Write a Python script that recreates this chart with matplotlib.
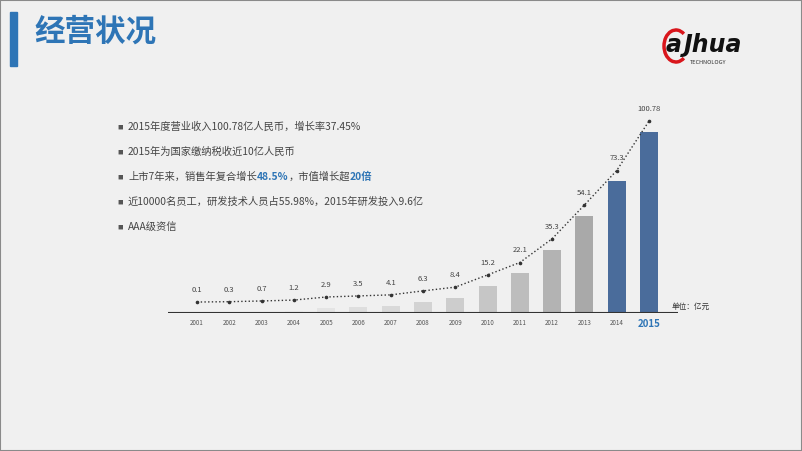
import matplotlib
matplotlib.use("Agg")
import matplotlib.pyplot as plt
from matplotlib.patches import Rectangle, Arc

plt.rcParams["font.family"] = ["Noto Sans CJK SC", "DejaVu Sans"]

years = ["2001", "2002", "2003", "2004", "2005", "2006", "2007", "2008",
         "2009", "2010", "2011", "2012", "2013", "2014", "2015"]
revenue = [0.1, 0.3, 0.7, 1.2, 2.9, 3.5, 4.1, 6.3, 8.4, 15.2, 22.1, 35.3, 54.1, 73.3, 100.78]
labels = ["0.1", "0.3", "0.7", "1.2", "2.9", "3.5", "4.1", "6.3", "8.4", "15.2",
          "22.1", "35.3", "54.1", "73.3", "100.78"]
bar_colors = ["#1a1a1a", "#1a1a1a", "#f0f0f0", "#ebebeb", "#e4e4e4", "#dedede", "#d9d9d9",
              "#d3d3d3", "#cdcdcd", "#c6c6c6", "#bdbdbd", "#b3b3b3", "#a9a9a9",
              "#4a6c9b", "#4a6c9b"]

W, H = 802, 451
fig = plt.figure(figsize=(W / 100, H / 100), dpi=100)
fig.patch.set_facecolor("#f0f0f0")

# frame
fig.add_artist(Rectangle((0, 0), 1, 1, transform=fig.transFigure, fill=False,
                         edgecolor="#8a8a8a", lw=1.5))
# title bar
fig.add_artist(Rectangle((10 / W, 1 - 66 / H), 7 / W, 54 / H, transform=fig.transFigure,
                         color="#2e75b6"))
fig.text(34 / W, 1 - 32 / H, "经营状况", fontsize=22, fontweight="bold", color="#2e75b6",
         va="center")

# logo
fig.text(666 / W, 1 - 45 / H, "a", fontsize=17, fontweight="bold", style="italic",
         color="#111111", va="center", family="DejaVu Sans")
fig.add_artist(Arc((676 / W, 1 - 46 / H), 24 / W, 32 / H, theta1=70, theta2=290,
                   transform=fig.transFigure, color="#d9161c", lw=2.5))
fig.text(684 / W, 1 - 45 / H, "Jhua", fontsize=17, fontweight="bold", style="italic",
         color="#111111", va="center", family="DejaVu Sans")
fig.text(690 / W, 1 - 62 / H, "TECHNOLOGY", fontsize=4, color="#333333", va="center")

# bullets
bullets = [
    [("2015年度营业收入100.78亿人民币，增长率37.45%", "#444444", "normal")],
    [("2015年为国家缴纳税收近10亿人民币", "#444444", "normal")],
    [("上市7年来，销售年复合增长", "#444444", "normal"), ("48.5%", "#2e75b6", "bold"),
     ("，市值增长超", "#444444", "normal"), ("20倍", "#2e75b6", "bold")],
    [("近10000名员工，研发技术人员占55.98%，2015年研发投入9.6亿", "#444444", "normal")],
    [("AAA级资信", "#444444", "normal")],
]
for i, parts in enumerate(bullets):
    y = 1 - (127 + i * 25) / H
    fig.text(117 / W, y, "■", fontsize=4, color="#555555", va="center")
    x = 128
    for txt, col, wt in parts:
        t = fig.text(x / W, y, txt, fontsize=7.4, color=col, fontweight=wt, va="center")
        fig.canvas.draw()
        x += t.get_window_extent().width

# chart
ax = fig.add_axes([168 / W, 1 - 313 / H, (678 - 168) / W, 203 / H])
ax.set_facecolor("none")
xs = range(len(years))
ax.bar(xs, revenue, width=0.56, color=bar_colors)
line_y = [v + 6 for v in revenue]
ax.plot(xs, line_y, ":", color="#333333", lw=1, marker="o", ms=1.6)
for x, v, lab in zip(xs, line_y, labels):
    ax.text(x, v + 4.5, lab, ha="center", va="bottom", fontsize=5.5, color="#444444")
ax.set_xlim(-0.9, 14.9)
ax.set_ylim(0, 113)
ax.axhline(0, color="#333333", lw=1.5)
for s in ax.spines.values():
    s.set_visible(False)
ax.set_yticks([])
ax.set_xticks(list(xs))
ax.set_xticklabels(years, fontsize=4.5, color="#555555")
ax.get_xticklabels()[-1].set_fontsize(7)
ax.get_xticklabels()[-1].set_color("#2e75b6")
ax.get_xticklabels()[-1].set_fontweight("bold")
ax.tick_params(axis="x", length=0, pad=4)
fig.text(672 / W, 1 - 307 / H, "单位：亿元", fontsize=5.5, color="#333333", va="center")

fig.savefig("out.png", dpi=100, facecolor=fig.get_facecolor())
